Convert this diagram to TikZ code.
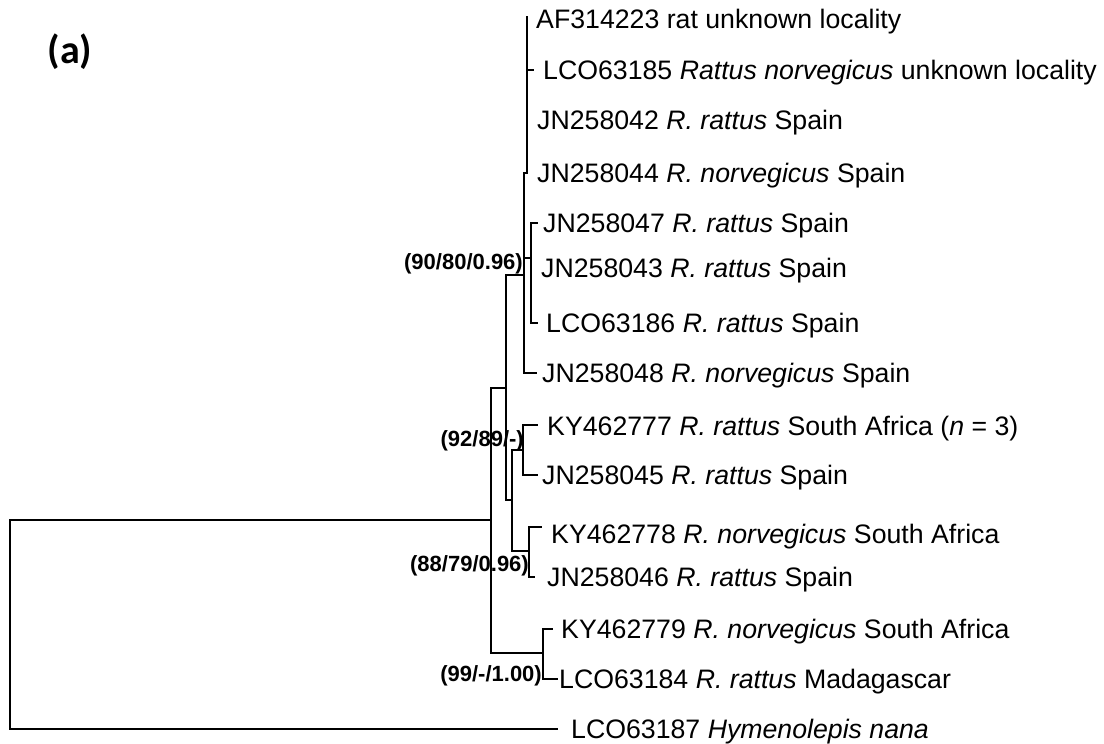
\documentclass[tikz,border=0pt]{standalone}
\usepackage{fontspec}
\setmainfont{Liberation Sans}
\newfontfamily\calib{Carlito}
\begin{document}
\begin{tikzpicture}[x=1pt,y=-1pt,
  br/.style={line width=1.8pt, line cap=rect},
  tip/.style={anchor=base west, inner sep=0pt, font=\fontsize{26.7}{30}\selectfont},
  suplab/.style={anchor=base east, inner sep=0pt, font=\fontsize{22}{25}\selectfont\bfseries}]
\useasboundingbox (0,0) rectangle (1104,744);
% internal nodes
\coordinate (r) at (10,520);
\coordinate (n1) at (491,520);
\coordinate (n2) at (506,388);
\coordinate (n3) at (524,275);
\coordinate (n4) at (527,173);
\coordinate (n5) at (531,258);
\coordinate (n6) at (512,500);
\coordinate (n7) at (523,450);
\coordinate (n8) at (529,551);
\coordinate (n9) at (543,653);
% tips
\coordinate (t1) at (527,17);
\coordinate (t2) at (533,70);
\coordinate (t5) at (537,223);
\coordinate (t7) at (537,323);
\coordinate (t8) at (536,373);
\coordinate (t9) at (537,425);
\coordinate (t10) at (537,475);
\coordinate (t11) at (541,527);
\coordinate (t12) at (534,577);
\coordinate (t13) at (552,629);
\coordinate (t14) at (557,679);
\coordinate (t15) at (557,729);
% branches
\draw[br] (r) |- (t15);
\draw[br] (r) -- (n1);
\draw[br] (n2) -| (n1) |- (n9);
\draw[br] (n3) -| (n2) |- (n6);
\draw[br] (n4) -| (n3) |- (t8);
\draw[br] (n3 |- n5) -- (n5);
\draw[br] (t1) -- (n4);
\draw[br] (t1 |- t2) -- (t2);
\draw[br] (t5) -| (n5) |- (t7);
\draw[br] (n7) -| (n6) |- (n8);
\draw[br] (t9) -| (n7) |- (t10);
\draw[br] (t11) -| (n8) |- (t12);
\draw[br] (t13) -| (n9) |- (t14);
% tip labels
\node[tip] (l1) at (536,28.5) {AF314223 rat unknown locality};
\node[tip] (l2) at (543,79.5) {LCO63185 \textit{Rattus norvegicus} unknown locality};
\node[tip] (l3) at (537,129.5) {JN258042 \textit{R. rattus} Spain};
\node[tip] (l4) at (537,182.5) {JN258044 \textit{R. norvegicus} Spain};
\node[tip] (l5) at (543,232.5) {JN258047 \textit{R. rattus} Spain};
\node[tip] (l6) at (541,277.5) {JN258043 \textit{R. rattus} Spain};
\node[tip] (l7) at (546,332.5) {LCO63186 \textit{R. rattus} Spain};
\node[tip] (l8) at (542,382.5) {JN258048 \textit{R. norvegicus} Spain};
\node[tip] (l9) at (547,435) {KY462777 \textit{R. rattus} South Africa (\textit{n} = 3)};
\node[tip] (l10) at (542,484) {JN258045 \textit{R. rattus} Spain};
\node[tip] (l11) at (551,543) {KY462778 \textit{R. norvegicus} South Africa};
\node[tip] (l12) at (547,586.5) {JN258046 \textit{R. rattus} Spain};
\node[tip] (l13) at (561,638.5) {KY462779 \textit{R. norvegicus} South Africa};
\node[tip] (l14) at (559,688.5) {LCO63184 \textit{R. rattus} Madagascar};
\node[tip] (l15) at (571,738.5) {LCO63187 \textit{Hymenolepis nana}};
% support values
\node[suplab] (s1) at (523,269) {(90/80/0.96)};
\node[suplab] (s2) at (524,446) {(92/89/-)};
\node[suplab] (s3) at (529,571) {(88/79/0.96)};
\node[suplab] (s4) at (542,681) {(99/-/1.00)};
% panel letter
\node[font=\calib\bfseries\fontsize{40}{44}\selectfont, inner sep=0pt] (pa) at (70,52) {(a)};
\end{tikzpicture}
\end{document}
